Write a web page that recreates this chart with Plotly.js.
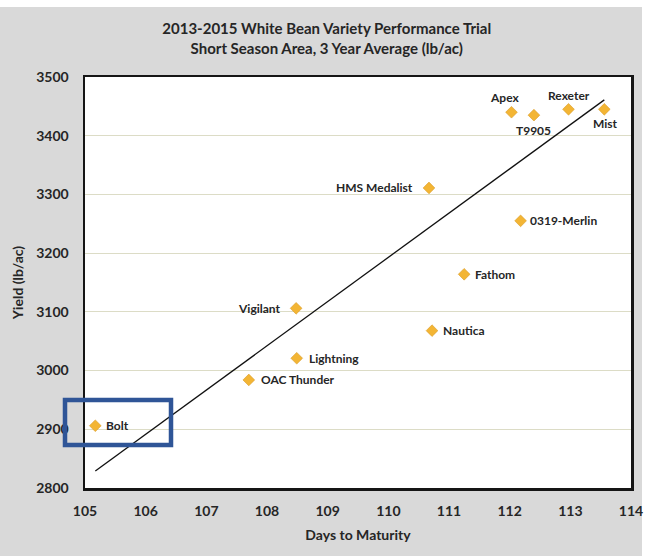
<!DOCTYPE html>
<html>
<head>
<meta charset="utf-8">
<script src="https://cdn.plot.ly/plotly-3.0.1.min.js"></script>
<style>html,body{margin:0;padding:0;background:#fff;}#chart{width:647px;height:556px;}</style>
</head>
<body>
<div id="chart"></div>
<script>
// ---- data ----
const varieties = ["Bolt", "OAC Thunder", "Lightning", "Vigilant", "Nautica", "Fathom",
                   "HMS Medalist", "0319-Merlin", "Apex", "T9905", "Rexeter", "Mist"];
const daysToMaturity = [105.17, 107.70, 108.49, 108.48, 110.72, 111.25,
                        110.67, 112.18, 112.03, 112.40, 112.97, 113.56];
const yieldLbAc = [2906, 2984, 3021, 3106, 3068, 3164,
                   3311, 3255, 3440, 3435, 3445, 3445];
const trendX = [105.17, 113.56];
const trendY = [2829, 3461];
const xTicks = [105, 106, 107, 108, 109, 110, 111, 112, 113, 114];
const yTicks = [2800, 2900, 3000, 3100, 3200, 3300, 3400, 3500];

// ---- label placement (style only) ----
const labelPlace = {
  "Bolt": ["left", 9, 0], "OAC Thunder": ["left", 10, 0], "Lightning": ["left", 10, 0],
  "Vigilant": ["right", -13, 0], "Nautica": ["left", 9, 0], "Fathom": ["left", 9, 0],
  "HMS Medalist": ["right", -14, 0], "0319-Merlin": ["left", 7, 0],
  "Apex": ["center", -7, 15], "T9905": ["center", 0, -15],
  "Rexeter": ["center", 0, 14], "Mist": ["center", 1, -14]
};

const FONT = "Lato, 'Open Sans', sans-serif";
const TXT = "#262626";

const traces = [
  {
    x: trendX, y: trendY, type: "scatter", mode: "lines",
    line: {color: "#111111", width: 1.3}, hoverinfo: "skip", showlegend: false
  },
  {
    x: daysToMaturity, y: yieldLbAc, text: varieties, type: "scatter", mode: "markers",
    marker: {symbol: "diamond", size: 9, color: "#f3b534", line: {color: "#d99a26", width: 0.6}},
    showlegend: false
  }
];

const annotations = varieties.map((name, i) => {
  const p = labelPlace[name];
  return {
    x: daysToMaturity[i], y: yieldLbAc[i], xref: "x", yref: "y",
    text: "<b>" + name + "</b>", showarrow: false,
    xanchor: p[0], yanchor: "middle", xshift: p[1], yshift: p[2],
    font: {family: FONT, size: 12, color: TXT}
  };
});

const layout = {
  width: 647, height: 556,
  margin: {l: 85, r: 16, t: 77, b: 68},
  paper_bgcolor: "#d9d9d9",
  plot_bgcolor: "#ffffff",
  showlegend: false,
  title: {
    text: "<b>2013-2015 White Bean Variety Performance Trial<br>Short Season Area, 3 Year Average (lb/ac)</b>",
    x: 0.505, xref: "container", xanchor: "center",
    y: 1 - 34 / 556, yref: "container", yanchor: "middle",
    font: {family: FONT, size: 15, color: TXT}
  },
  xaxis: {
    range: [105, 114], tickvals: xTicks, ticktext: xTicks.map(String),
    showgrid: false, zeroline: false, ticks: "",
    showline: true, linecolor: "#151515", linewidth: 2.5, mirror: true,
    ticklabelstandoff: 9,
    tickfont: {family: FONT, size: 14, color: TXT, weight: "bold"},
    title: {text: "<b>Days to Maturity</b>", standoff: 12,
            font: {family: FONT, size: 14, color: TXT}}
  },
  yaxis: {
    range: [2800, 3500], tickvals: yTicks, ticktext: yTicks.map(String),
    showgrid: true, gridcolor: "#dcdcc6", gridwidth: 1.2, zeroline: false, ticks: "",
    showline: true, linecolor: "#151515", linewidth: 2.5, mirror: true,
    ticklabelstandoff: 11,
    tickfont: {family: FONT, size: 14, color: TXT, weight: "bold"},
    title: {text: "<b>Yield (lb/ac)</b>", standoff: 10,
            font: {family: FONT, size: 14, color: TXT}}
  },
  annotations: annotations,
  shapes: [
    // white strips at page top and right edge
    {type: "rect", xref: "paper", yref: "paper", x0: -0.3, x1: 1.1, y0: 1 + 70 / 411, y1: 1.25,
     fillcolor: "#ffffff", line: {width: 0}, layer: "below"},
    {type: "rect", xref: "paper", yref: "paper", x0: 1 + 11 / 546, x1: 1.1, y0: -0.3, y1: 1.25,
     fillcolor: "#ffffff", line: {width: 0}, layer: "below"},
    // blue highlight box around Bolt
    {type: "rect", xref: "paper", yref: "paper",
     x0: (65 - 85) / 546, x1: (171 - 85) / 546,
     y0: (488 - 445) / 411, y1: (488 - 400) / 411,
     line: {color: "#2f5597", width: 4.5}, fillcolor: "rgba(0,0,0,0)", layer: "above"}
  ]
};

Plotly.newPlot("chart", traces, layout, {displayModeBar: false, staticPlot: true});
</script>
</body>
</html>
